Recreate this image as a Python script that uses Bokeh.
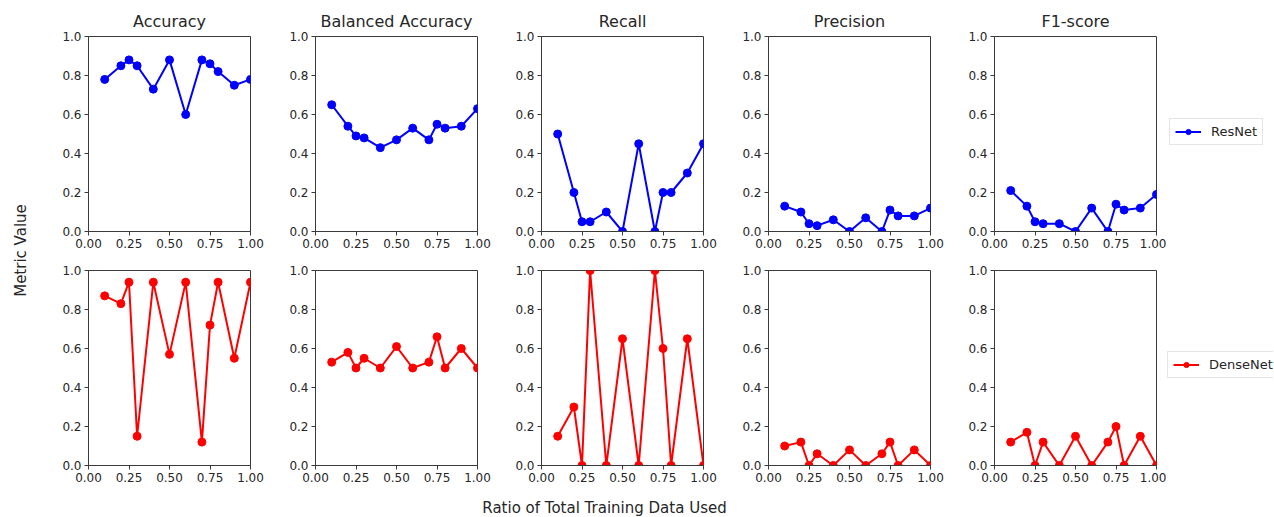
from bokeh.plotting import figure
from bokeh.layouts import row, column
from bokeh.models import FixedTicker, PrintfTickFormatter, Legend, LegendItem, Label, Range1d
from bokeh.embed import file_html
from bokeh.resources import INLINE

# ---------------- data ----------------
x_ratio = [0.1, 0.2, 0.25, 0.3, 0.4, 0.5, 0.6, 0.7, 0.75, 0.8, 0.9, 1.0]

metric_names = ["Accuracy", "Balanced Accuracy", "Recall", "Precision", "F1-score"]

resnet_accuracy = [0.78, 0.85, 0.88, 0.85, 0.73, 0.88, 0.60, 0.88, 0.86, 0.82, 0.75, 0.78]
resnet_balanced = [0.65, 0.54, 0.49, 0.48, 0.43, 0.47, 0.53, 0.47, 0.55, 0.53, 0.54, 0.63]
resnet_recall = [0.50, 0.20, 0.05, 0.05, 0.10, 0.00, 0.45, 0.00, 0.20, 0.20, 0.30, 0.45]
resnet_precision = [0.13, 0.10, 0.04, 0.03, 0.06, 0.00, 0.07, 0.00, 0.11, 0.08, 0.08, 0.12]
resnet_f1 = [0.21, 0.13, 0.05, 0.04, 0.04, 0.00, 0.12, 0.00, 0.14, 0.11, 0.12, 0.19]

densenet_accuracy = [0.87, 0.83, 0.94, 0.15, 0.94, 0.57, 0.94, 0.12, 0.72, 0.94, 0.55, 0.94]
densenet_balanced = [0.53, 0.58, 0.50, 0.55, 0.50, 0.61, 0.50, 0.53, 0.66, 0.50, 0.60, 0.50]
densenet_recall = [0.15, 0.30, 0.00, 1.00, 0.00, 0.65, 0.00, 1.00, 0.60, 0.00, 0.65, 0.00]
densenet_precision = [0.10, 0.12, 0.00, 0.06, 0.00, 0.08, 0.00, 0.06, 0.12, 0.00, 0.08, 0.00]
densenet_f1 = [0.12, 0.17, 0.00, 0.12, 0.00, 0.15, 0.00, 0.12, 0.20, 0.00, 0.15, 0.00]

x_ticks = [0.0, 0.25, 0.5, 0.75, 1.0]
y_ticks = [0.0, 0.2, 0.4, 0.6, 0.8, 1.0]

models = [
    ("ResNet", "#0000ff", [resnet_accuracy, resnet_balanced, resnet_recall, resnet_precision, resnet_f1]),
    ("DenseNet", "#ff0000", [densenet_accuracy, densenet_balanced, densenet_recall, densenet_precision, densenet_f1]),
]

# ---------------- layout ----------------
FONT = "DejaVu Sans"
TXT = "#262626"
AX = "#3a3a3a"
FRAME_W = 162
BORDER_L = 45
YLAB_W = 43
col_widths = [227, 226, 227, 226, 217]
STRIP_W = 107
ROW_H = [256, 231]
BORD_T = [36, 14]
BORD_B = [25, 22]
# legend box bottom-left, in px from the (row-aligned) frame's bottom-left
legend_loc = [(3, 86), (1, 87)]


def style_text_fig(p):
    p.axis.visible = False
    p.grid.visible = False
    p.outline_line_color = None
    p.background_fill_color = "white"
    p.border_fill_color = "white"


def make_panel(r, c, color, ys):
    w = col_widths[c]
    p = figure(width=w, height=ROW_H[r], output_backend="svg", toolbar_location=None,
               x_range=Range1d(0, 1), y_range=Range1d(0, 1),
               min_border_left=BORDER_L, min_border_right=w - BORDER_L - FRAME_W,
               min_border_top=BORD_T[r], min_border_bottom=BORD_B[r],
               background_fill_color="white", border_fill_color="white")
    if r == 0:
        p.title.text = metric_names[c]
        p.title.align = "center"
        p.title.text_font = FONT
        p.title.text_font_size = "16px"
        p.title.text_font_style = "normal"
        p.title.text_color = TXT
        p.title.standoff = 12
    p.outline_line_color = AX
    p.outline_line_width = 1
    p.xgrid.visible = False
    p.ygrid.visible = False
    for ax, ticks, fmt in ((p.xaxis, x_ticks, "%.2f"), (p.yaxis, y_ticks, "%.1f")):
        ax.ticker = FixedTicker(ticks=ticks)
        ax.formatter = PrintfTickFormatter(format=fmt)
        ax.minor_tick_line_color = None
        ax.major_tick_in = 0
        ax.major_tick_out = 4
        ax.major_tick_line_color = AX
        ax.axis_line_color = AX
        ax.major_label_text_font = FONT
        ax.major_label_text_font_size = "12px"
        ax.major_label_text_color = TXT
        ax.major_label_standoff = 3
    p.line(x_ratio, ys, line_color=color, line_width=2)
    p.scatter(x_ratio, ys, marker="circle", size=8, fill_color=color, line_color=color)
    return p


def make_legend_strip(r, name, color, ys):
    h = ROW_H[r]
    # ranges chosen so the series itself stays out of view; it only feeds the legend glyph
    s = figure(width=STRIP_W, height=h, output_backend="svg", toolbar_location=None,
               x_range=Range1d(10, 11), y_range=Range1d(10, 11), min_border=0)
    style_text_fig(s)
    ln = s.line(x_ratio, ys, line_color=color, line_width=2)
    sc = s.scatter(x_ratio, ys, marker="circle", size=8, fill_color=color, line_color=color)
    leg = Legend(items=[LegendItem(label=name, renderers=[ln, sc])],
                 location=legend_loc[r], orientation="vertical",
                 label_text_font=FONT, label_text_font_size="13px", label_text_color=TXT,
                 glyph_width=26, glyph_height=13, label_height=13, label_standoff=10,
                 padding=5, spacing=0, margin=0,
                 border_line_color="#cccccc", border_line_width=1,
                 background_fill_color="white", background_fill_alpha=1.0)
    s.add_layout(leg, "center")
    return s


rows = []
for r, (name, color, series) in enumerate(models):
    figs = [make_panel(r, c, color, series[c]) for c in range(5)]
    figs.append(make_legend_strip(r, name, color, series[0]))
    rows.append(row(figs, spacing=0))

# y label strip
ylab_h = ROW_H[0] + ROW_H[1]
ylab = figure(width=YLAB_W, height=ylab_h, output_backend="svg", toolbar_location=None,
              x_range=Range1d(0, YLAB_W), y_range=Range1d(0, ylab_h), min_border=0)
style_text_fig(ylab)
ylab.add_layout(Label(x=20, y=ylab_h - 250, text="Metric Value", angle=1.5707963,
                      text_align="center", text_baseline="middle",
                      text_font=FONT, text_font_size="15px", text_color=TXT))

# x label strip
XW = YLAB_W + sum(col_widths) + STRIP_W
XH = 29
xlab = figure(width=XW, height=XH, output_backend="svg", toolbar_location=None,
              x_range=Range1d(0, XW), y_range=Range1d(0, XH), min_border=0)
style_text_fig(xlab)
xlab.add_layout(Label(x=604, y=XH - 11, text="Ratio of Total Training Data Used",
                      text_align="center", text_baseline="top",
                      text_font=FONT, text_font_size="15px", text_color=TXT))

layout = column([row([ylab, column(rows, spacing=0)], spacing=0), xlab], spacing=0)

open("out.html", "w").write(file_html(layout, INLINE))
